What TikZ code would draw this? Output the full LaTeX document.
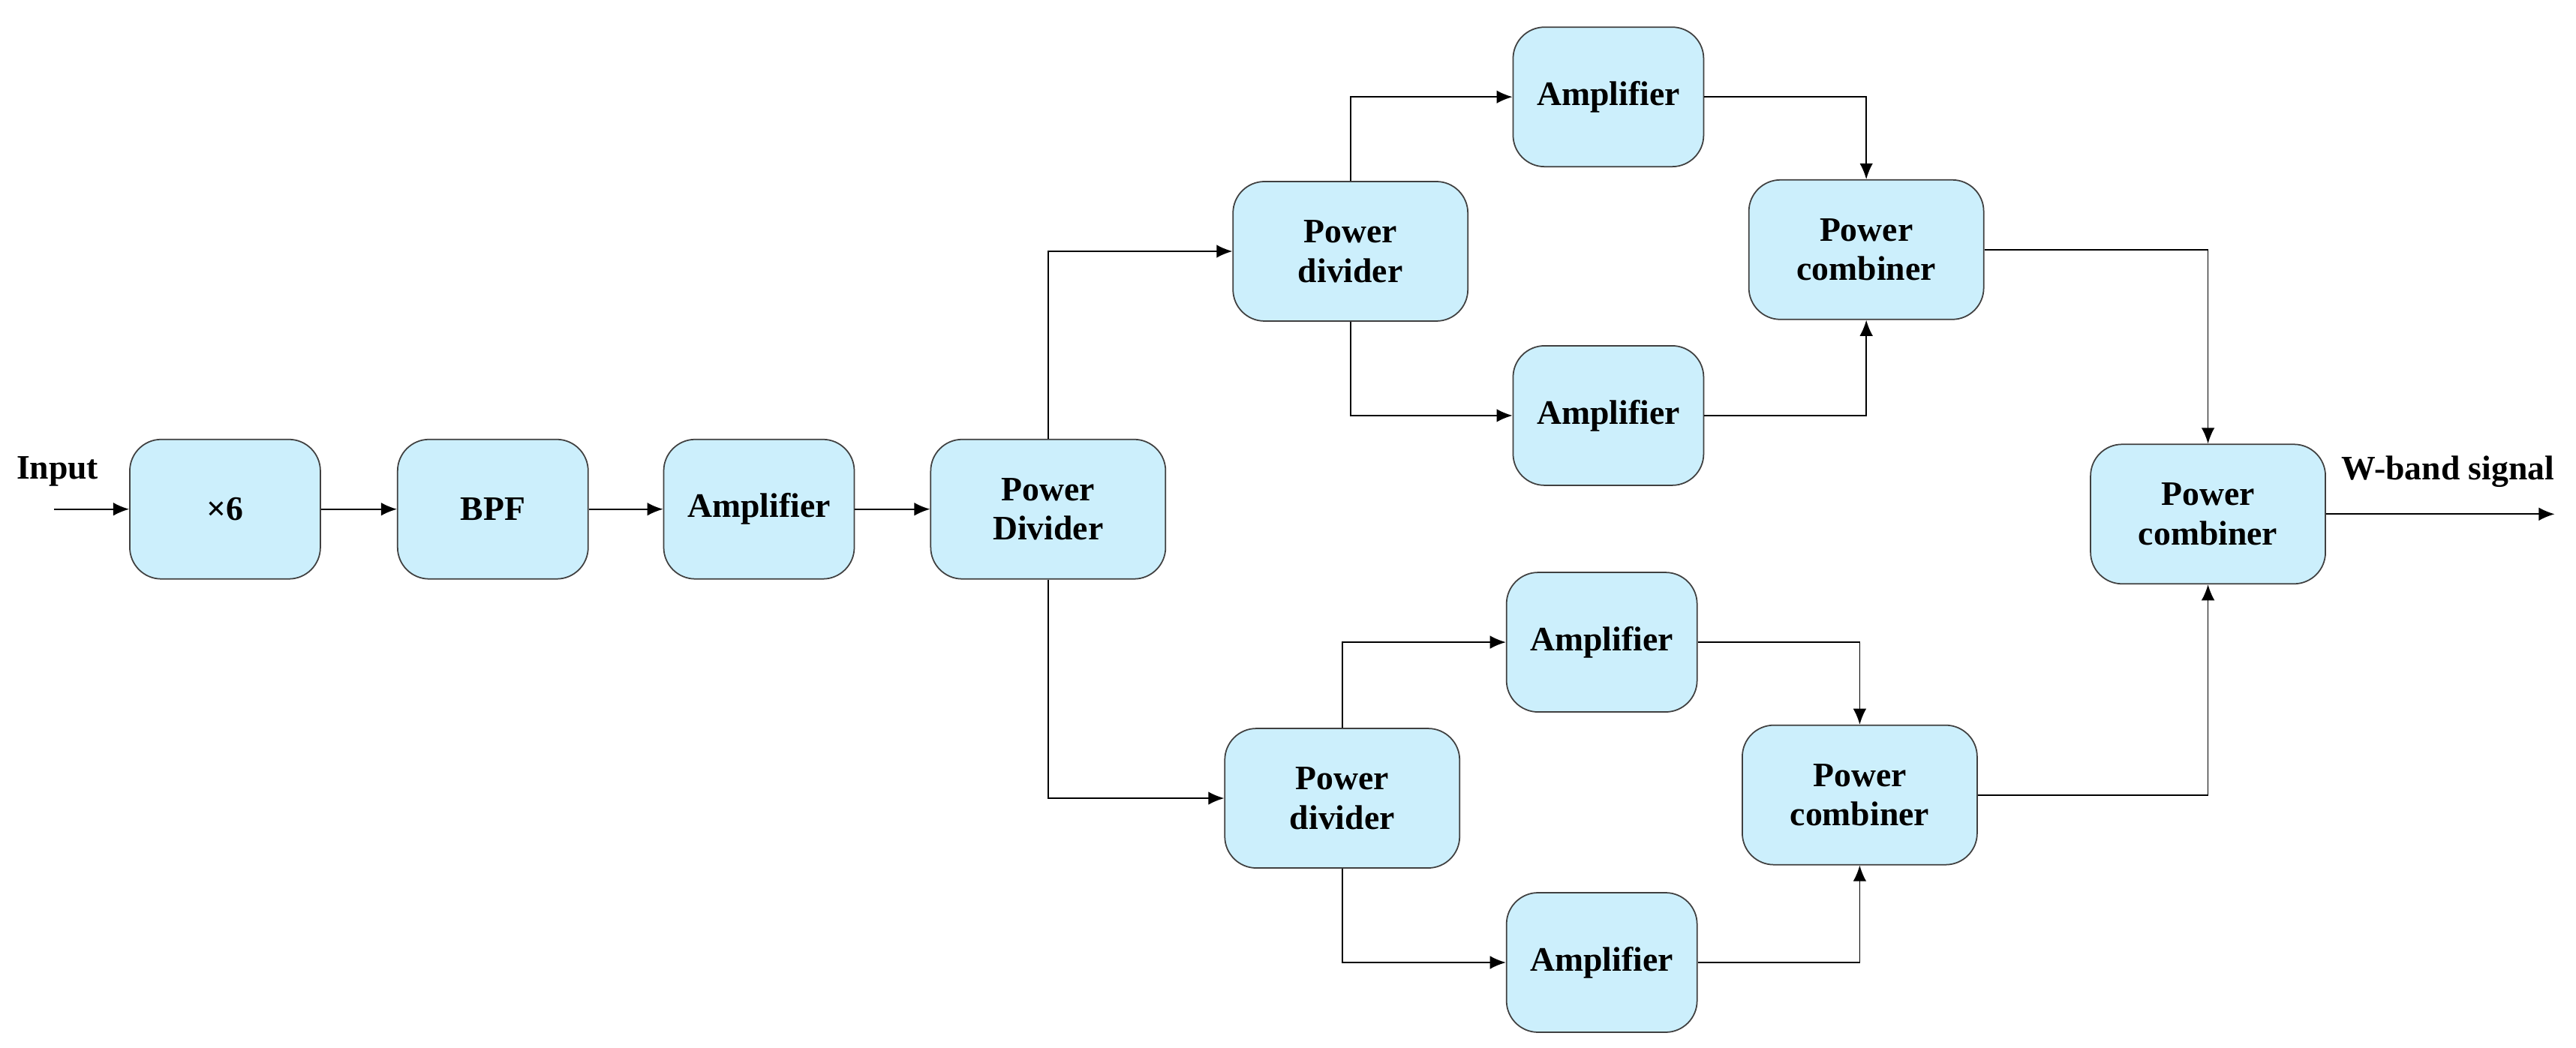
\documentclass[tikz,border=0pt]{standalone}
\usepackage{fontspec}
\setmainfont{Liberation Serif}
\usetikzlibrary{arrows.meta}
\tikzset{
  blk/.style={draw=black!75, fill=cyan!20!white, rounded corners=0.42cm,
    minimum width=#1, minimum height=1.86cm, align=center, inner sep=1pt,
    font=\fontsize{13}{15}\selectfont\bfseries, line width=0.5pt},
  blk/.default=2.54cm,
  lnk/.style={-{Latex[length=6pt,width=5pt]}, line width=0.5pt},
}
\begin{document}
\begin{tikzpicture}[x=0.021894cm, y=-0.021894cm] % {{{
\useasboundingbox (0,0) rectangle (1568,638);
% main chain {{{
\node[blk] (mult) at (137,310) {×6};
\node[blk] (bpf) at (300,310) {BPF};
\node[blk] (amp) at (462,310) {Amplifier};
\node[blk=3.13cm] (div) at (638,310) {Power\\Divider};
% }}}
% upper branch {{{
\node[blk=3.13cm] (udiv) at (822,153) {Power\\divider};
\node[blk] (uampa) at (979,59) {Amplifier};
\node[blk] (uampb) at (979,253) {Amplifier};
\node[blk=3.13cm] (ucomb) at (1136,152) {Power\\combiner};
% }}}
% lower branch {{{
\node[blk=3.13cm] (ldiv) at (817,486) {Power\\divider};
\node[blk] (lampa) at (975,391) {Amplifier};
\node[blk] (lampb) at (975,586) {Amplifier};
\node[blk=3.13cm] (lcomb) at (1132,484) {Power\\combiner};
% }}}
\node[blk=3.13cm] (fcomb) at (1344,313) {Power\\combiner};
\coordinate (in) at (33,310);
\coordinate (out) at (1555,313);
\node[font=\fontsize{13}{15}\selectfont\bfseries] (inlbl) at (35,287) {Input};
\node[font=\fontsize{13}{15}\selectfont\bfseries] (outlbl) at (1490,287) {W-band signal};
% connectors {{{
\draw[lnk] (in) -- (mult);
\draw[lnk] (mult) -- (bpf);
\draw[lnk] (bpf) -- (amp);
\draw[lnk] (amp) -- (div);
\draw[lnk] (div.north) |- (udiv.west);
\draw[lnk] (div.south) |- (ldiv.west);
\draw[lnk] (udiv.north) |- (uampa.west);
\draw[lnk] (udiv.south) |- (uampb.west);
\draw[lnk] (uampa.east) -| (ucomb.north);
\draw[lnk] (uampb.east) -| (ucomb.south);
\draw[lnk] (ldiv.north) |- (lampa.west);
\draw[lnk] (ldiv.south) |- (lampb.west);
\draw[lnk] (lampa.east) -| (lcomb.north);
\draw[lnk] (lampb.east) -| (lcomb.south);
\draw[lnk] (ucomb.east) -| (fcomb.north);
\draw[lnk] (lcomb.east) -| (fcomb.south);
\draw[lnk] (fcomb.east) -- (out);
% }}}
\end{tikzpicture} % }}}
\end{document}
